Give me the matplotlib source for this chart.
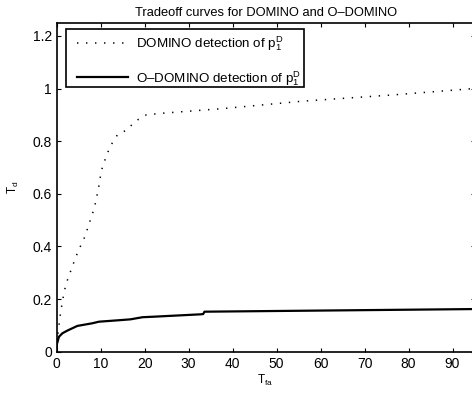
import matplotlib
matplotlib.use('Agg')
import matplotlib.pyplot as plt
from matplotlib.patches import Rectangle
import numpy as np

# Data
domino_fa = [0, 0.3, 0.75, 1.05, 1.36, 2.1, 2.8, 3.4, 4.1, 4.8, 5.6, 6.4, 7.0, 7.6,
             8.2, 8.7, 9.1, 9.5, 9.8, 10.1, 10.6, 11.3, 12.0, 12.9, 13.9, 15.8,
             17.2, 18.6, 20.4, 24, 38, 56, 76, 95]
domino_d = [0, 0.07, 0.133, 0.165, 0.197, 0.258, 0.287, 0.318, 0.348, 0.379, 0.408,
            0.437, 0.467, 0.498, 0.528, 0.557, 0.589, 0.62, 0.652, 0.684, 0.712,
            0.743, 0.774, 0.801, 0.826, 0.841, 0.864, 0.883, 0.9, 0.906, 0.924,
            0.952, 0.975, 1.0]

odomino_fa = [0, 0.05, 0.52, 1.3, 2.4, 4.7, 8.1, 9.6, 14.5, 16.8, 19.5, 22.1,
              32.7, 33.3, 33.6, 95]
odomino_d = [0, 0.03, 0.057, 0.070, 0.080, 0.098, 0.108, 0.114, 0.120, 0.123,
             0.131, 0.133, 0.142, 0.143, 0.152, 0.162]

xticks = list(range(0, 100, 10))
yticks = [0, 0.2, 0.4, 0.6, 0.8, 1.0, 1.2]
ytick_labels = ['0', '0.2', '0.4', '0.6', '0.8', '1', '1.2']

plt.rcParams['font.family'] = ['Liberation Sans', 'DejaVu Sans']
plt.rcParams['font.size'] = 10
plt.rcParams['mathtext.fontset'] = 'custom'
plt.rcParams['mathtext.rm'] = 'Liberation Sans'
plt.rcParams['mathtext.it'] = 'Liberation Sans'

W, H = 472, 401
fig = plt.figure(figsize=(W / 100, H / 100), dpi=100)
x0, x1 = 56.7, 474.5
y0, y1 = 351.7, 22.7
ax = fig.add_axes([x0 / W, 1 - y0 / H, (x1 - x0) / W, (y0 - y1) / H])

ax.plot(domino_fa, domino_d, color='k', lw=1.1, linestyle=(0, (0.9, 5.0)),
        label=r'DOMINO detection of $\mathregular{p_1^D}$')
ax.plot(odomino_fa, odomino_d, color='k', lw=1.6,
        label='O\u2013DOMINO detection of $\\mathregular{p_1^D}$')

ax.set_xlim(0, 95)
ax.set_ylim(0, 1.25)
ax.set_xticks(xticks)
ax.set_yticks(yticks)
ax.set_yticklabels(ytick_labels)
ax.tick_params(direction='in', length=3, width=0.8, top=True, right=True, pad=3.5)
for s in ax.spines.values():
    s.set_linewidth(1.2)

ax.set_title('Tradeoff curves for DOMINO and O\u2013DOMINO', fontsize=9.3, pad=4.5)
ax.set_xlabel(r'$\mathregular{T_{fa}}$', fontsize=8.5, labelpad=2)
ax.set_ylabel(r'$\mathregular{T_d}$', fontsize=8.5, labelpad=8)

# legend: frame drawn separately so the entries can sit where they do in the original
bx0, bx1, by0, by1 = 65.7, 304.0, 29.3, 87.3
frame = Rectangle((bx0 / W, 1 - by1 / H), (bx1 - bx0) / W, (by1 - by0) / H,
                  transform=fig.transFigure, facecolor='white', edgecolor='k',
                  lw=1.2, zorder=4, clip_on=False)
ax.add_patch(frame)
leg = ax.legend(loc='upper left', bbox_to_anchor=(77 / W, 1 - 34.5 / H),
                bbox_transform=fig.transFigure, borderaxespad=0, borderpad=0,
                frameon=False, fontsize=9.6, handlelength=3.85, handletextpad=0.6,
                labelspacing=1.18)
leg.set_zorder(5)

fig.savefig('out.png', dpi=100)
